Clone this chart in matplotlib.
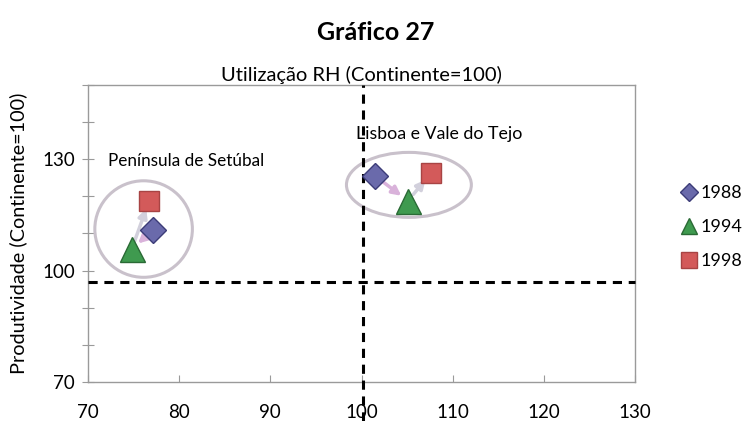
import matplotlib
matplotlib.use("Agg")
import matplotlib.pyplot as plt
from matplotlib.lines import Line2D
from matplotlib.patches import Ellipse
from matplotlib.ticker import FixedLocator, FuncFormatter

plt.rcParams['font.family'] = ['Lato', 'DejaVu Sans']

# Data
years = ['1988', '1994', '1998']
setubal_x = [77.1, 74.8, 76.7]
setubal_y = [110.9, 105.8, 118.8]
lisboa_x = [101.5, 105.1, 107.6]
lisboa_y = [125.5, 118.8, 126.2]
markers = ['D', '^', 's']
msizes = [13, 18, 15]
face = ['#6a6aab', '#3f9a4f', '#d35a5a']
edge = ['#3c3c78', '#2a6a35', '#a84444']
ref_x = 100.2
ref_y = 97.0

fig = plt.figure(figsize=(7.51, 4.21), dpi=100)
ax = fig.add_axes([88/751, 1-382/421, (635-88)/751, (382-85)/421])
ax.set_xlim(70, 130)
ax.set_ylim(70, 150)

# ellipses
ax.add_patch(Ellipse((76.1, 111.2), 10.7, 26, fill=False, ec='#c9c1cb', lw=2.2, zorder=2))
ax.add_patch(Ellipse((105.2, 123.1), 13.7, 17.5, fill=False, ec='#c9c1cb', lw=2.2, zorder=2))

# reference lines
ax.axhline(ref_y, color='black', lw=2.2, ls=(0, (3, 2.2)), zorder=3, clip_on=False)
ax.axvline(ref_x, ymin=-0.13, ymax=1, color='black', lw=2.2, ls=(0, (3, 2.2)), zorder=3, clip_on=False)

# arrows
arrow_cols = ['#d9b2da', '#d2d0dc']
for xs, ys in [(setubal_x, setubal_y), (lisboa_x, lisboa_y)]:
    for i in range(2):
        ax.annotate('', xy=(xs[i+1], ys[i+1]), xytext=(xs[i], ys[i]),
                    arrowprops=dict(arrowstyle='-|>', color=arrow_cols[i], lw=2.5,
                                    shrinkA=6, shrinkB=6, mutation_scale=13),
                    zorder=4)

# points
for i in range(3):
    ax.plot([setubal_x[i], lisboa_x[i]], [setubal_y[i], lisboa_y[i]], ls='none',
            marker=markers[i], ms=msizes[i], mfc=face[i], mec=edge[i], mew=1, zorder=5)

ax.text(72.2, 129.6, 'Península de Setúbal', fontsize=12.3, va='center', ha='left')
ax.text(99.4, 136.8, 'Lisboa e Vale do Tejo', fontsize=12.8, va='center', ha='left')

# axes styling
for s in ax.spines.values():
    s.set_color('#9a9a9a')
    s.set_linewidth(1)
ax.xaxis.set_major_locator(FixedLocator([70, 80, 90, 100, 110, 120, 130]))
ax.yaxis.set_major_locator(FixedLocator(list(range(70, 151, 10))))
ylabels = {70: '70', 100: '100', 130: '130'}
ax.yaxis.set_major_formatter(FuncFormatter(lambda v, p: ylabels.get(int(round(v)), '')))
ax.tick_params(axis='x', direction='in', length=5, color='#9a9a9a', pad=16, labelsize=13.5)
ax.tick_params(axis='y', direction='inout', length=9, color='#9a9a9a', pad=5, labelsize=13.5)

ax.set_title('Utilização RH (Continente=100)', fontsize=14.5, pad=3)
ax.set_ylabel('Produtividade (Continente=100)', fontsize=14.3)
ax.yaxis.set_label_coords(-0.112, 0.5)

fig.text(0.5, 1-32/421, 'Gráfico 27', fontsize=18, fontweight='bold', ha='center', va='center')

handles = [Line2D([], [], ls='none', marker=markers[i], ms=[9, 12, 11][i], mfc=face[i], mec=edge[i])
           for i in range(3)]
fig.legend(handles, years, loc='center left', bbox_to_anchor=(0.884, 1-227/421), frameon=False,
           fontsize=13, labelspacing=1.0, handlelength=1.0, handletextpad=0.15)

fig.savefig('out.png', dpi=100)
